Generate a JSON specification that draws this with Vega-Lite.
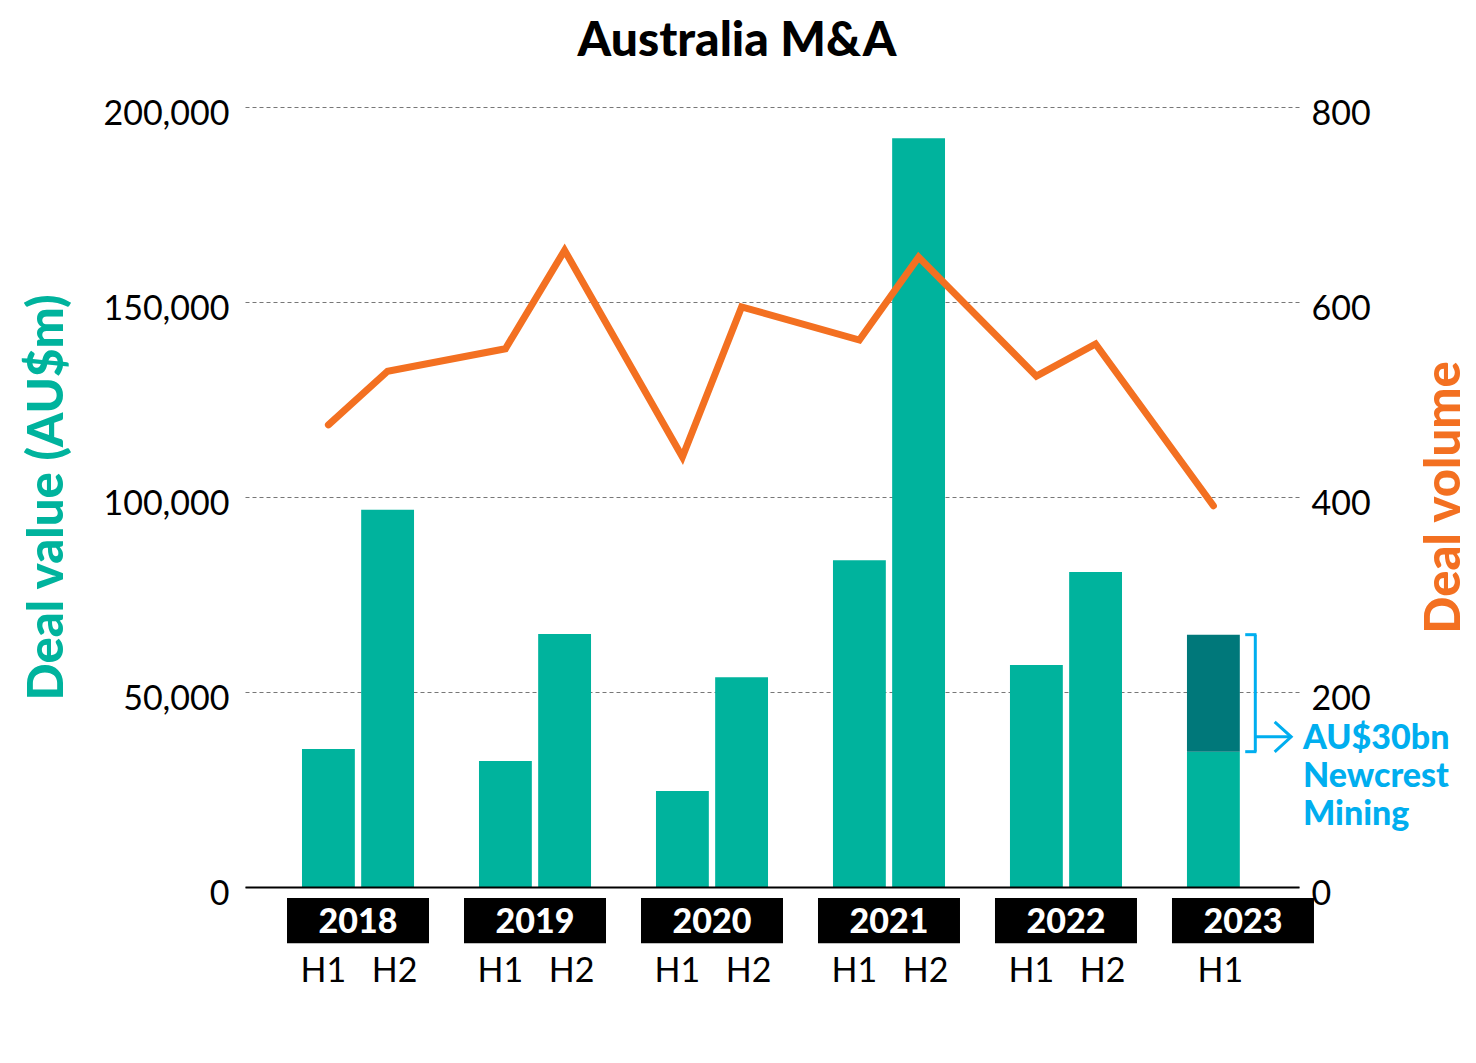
{
  "$schema": "https://vega.github.io/schema/vega-lite/v6.json",
  "width": 1054,
  "height": 780,
  "autosize": {"type": "none"},
  "padding": {"left": 245, "top": 107, "right": 177, "bottom": 176},
  "background": "white",
  "config": {"font": "Lato", "view": {"stroke": null}},
  "title": {
    "text": "Australia M&A",
    "fontSize": 48,
    "fontWeight": 900,
    "color": "black",
    "anchor": "middle",
    "offset": 31,
    "dx": -35
  },
  "datasets": {
    "halves": [
      {"year": "2018", "half": "H1", "part": "Deals", "value": 35400, "volume": 474},
      {"year": "2018", "half": "H2", "part": "Deals", "value": 96700, "volume": 529},
      {"year": "2019", "half": "H1", "part": "Deals", "value": 32300, "volume": 552},
      {"year": "2019", "half": "H2", "part": "Deals", "value": 64900, "volume": 653},
      {"year": "2020", "half": "H1", "part": "Deals", "value": 24600, "volume": 441},
      {"year": "2020", "half": "H2", "part": "Deals", "value": 53800, "volume": 595},
      {"year": "2021", "half": "H1", "part": "Deals", "value": 83800, "volume": 561},
      {"year": "2021", "half": "H2", "part": "Deals", "value": 192000, "volume": 646},
      {"year": "2022", "half": "H1", "part": "Deals", "value": 56900, "volume": 524},
      {"year": "2022", "half": "H2", "part": "Deals", "value": 80800, "volume": 557},
      {"year": "2023", "half": "H1", "part": "Deals", "value": 34700, "volume": 391},
      {"year": "2023", "half": "H1", "part": "Newcrest", "value": 30000}
    ],
    "years": [
      {"year": "2018"}, {"year": "2019"}, {"year": "2020"},
      {"year": "2021"}, {"year": "2022"}, {"year": "2023"}
    ],
    "newcrest": [
      {"year": "2023", "low": 34700, "high": 64700, "value": 30000}
    ]
  },
  "layer": [
    {
      "layer": [
        {
          "data": {"name": "halves"},
          "mark": {"type": "bar"},
          "encoding": {
            "x": {
              "field": "year",
              "type": "nominal",
              "scale": {
                "domain": ["2018", "2019", "2020", "2021", "2022", "2023"],
                "paddingInner": 0.367,
                "paddingOuter": 0.161,
                "align": 1
              },
              "axis": {
                "title": null,
                "labels": false,
                "ticks": false,
                "grid": false,
                "domain": true,
                "domainColor": "black",
                "domainWidth": 2,
                "zindex": 1
              }
            },
            "xOffset": {
              "field": "half",
              "type": "nominal",
              "scale": {"domain": ["H1", "H2"], "paddingInner": 0.107, "paddingOuter": 0}
            },
            "y": {
              "field": "value",
              "type": "quantitative",
              "stack": "zero",
              "scale": {"domain": [0, 200000], "nice": false},
              "axis": {
                "title": "Deal value (AU$m)",
                "titleColor": "#00B39D",
                "titleFontSize": 49,
                "titleFontWeight": 900,
                "titlePadding": 30,
                "values": [0, 50000, 100000, 150000, 200000],
                "labelExpr": "format(datum.value, ',')",
                "labelFontSize": 34,
                "labelColor": "black",
                "labelPadding": 16,
                "labelOffset": 7,
                "ticks": false,
                "domain": false,
                "grid": true,
                "gridColor": "#777777",
                "gridDash": [4, 3],
                "gridWidth": 1
              }
            },
            "color": {
              "field": "part",
              "type": "nominal",
              "scale": {"domain": ["Deals", "Newcrest"], "range": ["#00B39D", "#00787A"]},
              "legend": null
            },
            "order": {"field": "part", "sort": "ascending"}
          }
        },
        {
          "data": {"name": "years"},
          "mark": {"type": "bar", "width": 142, "color": "black"},
          "encoding": {
            "x": {"field": "year", "type": "nominal"},
            "y": {"datum": -2800},
            "y2": {"datum": -14400}
          }
        },
        {
          "data": {"name": "years"},
          "mark": {"type": "text", "color": "white", "fontSize": 34, "fontWeight": 900, "baseline": "middle", "dy": 1},
          "encoding": {
            "x": {"field": "year", "type": "nominal"},
            "y": {"datum": -9000},
            "text": {"field": "year"}
          }
        },
        {
          "data": {"name": "halves"},
          "transform": [{"filter": "datum.part !== 'Newcrest' && datum.half === 'H1' && datum.year !== '2023'"}],
          "mark": {"type": "text", "color": "black", "fontSize": 34, "baseline": "middle", "dx": -5},
          "encoding": {
            "x": {"field": "year", "type": "nominal"},
            "xOffset": {"field": "half", "type": "nominal"},
            "y": {"datum": -21800},
            "text": {"field": "half"}
          }
        },
        {
          "data": {"name": "halves"},
          "transform": [{"filter": "datum.part !== 'Newcrest' && (datum.half === 'H2' || datum.year === '2023')"}],
          "mark": {"type": "text", "color": "black", "fontSize": 34, "baseline": "middle", "dx": 7},
          "encoding": {
            "x": {"field": "year", "type": "nominal"},
            "xOffset": {"field": "half", "type": "nominal"},
            "y": {"datum": -21800},
            "text": {"field": "half"}
          }
        },
        {
          "data": {"name": "newcrest"},
          "mark": {"type": "rule", "color": "#00AEEF", "strokeWidth": 3},
          "encoding": {
            "x": {"field": "year", "type": "nominal", "bandPosition": 0.61},
            "y": {"field": "low", "type": "quantitative"},
            "y2": {"field": "high"}
          }
        },
        {
          "data": {"name": "newcrest"},
          "mark": {"type": "rule", "color": "#00AEEF", "strokeWidth": 3},
          "encoding": {
            "x": {"field": "year", "type": "nominal", "bandPosition": 0.52},
            "x2": {"field": "year", "bandPosition": 0.62},
            "y": {"field": "high", "type": "quantitative"}
          }
        },
        {
          "data": {"name": "newcrest"},
          "mark": {"type": "rule", "color": "#00AEEF", "strokeWidth": 3},
          "encoding": {
            "x": {"field": "year", "type": "nominal", "bandPosition": 0.52},
            "x2": {"field": "year", "bandPosition": 0.62},
            "y": {"field": "low", "type": "quantitative"}
          }
        },
        {
          "data": {"name": "newcrest"},
          "mark": {"type": "rule", "color": "#00AEEF", "strokeWidth": 3},
          "encoding": {
            "x": {"field": "year", "type": "nominal", "bandPosition": 0.61},
            "x2": {"field": "year", "bandPosition": 0.93},
            "y": {"datum": 38500}
          }
        },
        {
          "data": {"name": "newcrest"},
          "mark": {
            "type": "point",
            "shape": "M-1.1,-1L0,0L-1.1,1",
            "size": 900,
            "filled": false,
            "stroke": "#00AEEF",
            "strokeWidth": 3,
            "opacity": 1
          },
          "encoding": {
            "x": {"field": "year", "type": "nominal", "bandPosition": 0.93},
            "y": {"datum": 38500}
          }
        },
        {
          "data": {"name": "newcrest"},
          "mark": {
            "type": "text",
            "text": ["AU$30bn", "Newcrest", "Mining"],
            "align": "left",
            "baseline": "alphabetic",
            "fontSize": 34,
            "fontWeight": 900,
            "color": "#00AEEF",
            "lineHeight": 38,
            "dx": 4
          },
          "encoding": {
            "x": {"field": "year", "type": "nominal", "bandPosition": 1},
            "y": {"datum": 35300}
          }
        }
      ]
    },
    {
      "data": {"name": "halves"},
      "transform": [{"filter": "isValid(datum.volume)"}],
      "mark": {"type": "line", "color": "#F37021", "strokeWidth": 7, "strokeCap": "round"},
      "encoding": {
        "x": {"field": "year", "type": "nominal"},
        "xOffset": {"field": "half", "type": "nominal"},
        "y": {
          "field": "volume",
          "type": "quantitative",
          "scale": {"domain": [0, 800], "nice": false},
          "axis": {
            "orient": "right",
            "title": "Deal volume",
            "titleColor": "#F37021",
            "titleFontSize": 49,
            "titleFontWeight": 900,
            "titleAngle": 270,
            "titleBaseline": "top",
            "titlePadding": 50,
            "values": [0, 200, 400, 600, 800],
            "labelFontSize": 34,
            "labelColor": "black",
            "labelPadding": 12,
            "labelOffset": 7,
            "ticks": false,
            "domain": false,
            "grid": false
          }
        },
        "order": [{"field": "year"}, {"field": "half"}]
      }
    }
  ],
  "resolve": {"scale": {"y": "independent"}}
}
